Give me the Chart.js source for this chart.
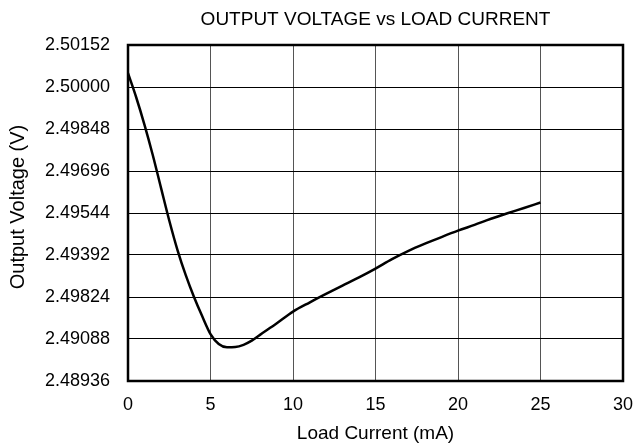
<!DOCTYPE html>
<html>
<head>
<meta charset="utf-8">
<script src="https://cdn.jsdelivr.net/npm/chart.js@4"></script>
<style>
  html, body { margin: 0; padding: 0; background: #fff; }
  #wrap { width: 634px; height: 445px; position: relative; }
</style>
</head>
<body>
<div id="wrap"><canvas id="voltChart"></canvas></div>
<script>
// --- DATA ---
const loadCurrent = [0, 0.5, 1, 1.5, 2, 2.5, 3, 3.5, 4, 4.5, 5, 5.5, 6, 6.5, 7, 7.5, 8, 9, 10,
                     11, 12, 13, 14, 15, 16, 17, 18, 19, 20, 21, 22, 23, 24, 25];
const outputVoltage = [2.50050, 2.49962, 2.49863, 2.49754, 2.49635, 2.49517, 2.49410, 2.49319,
                       2.49240, 2.49170, 2.49106, 2.49070, 2.49058, 2.49059, 2.49067, 2.49082,
                       2.49103, 2.49144, 2.49187, 2.49220, 2.49251, 2.49281, 2.49311, 2.49343,
                       2.49377, 2.49407, 2.49433, 2.49457, 2.49480, 2.49501, 2.49523, 2.49543,
                       2.49562, 2.49582];
const yTickValues = [2.48936, 2.49088, 2.49240, 2.49392, 2.49544, 2.49696, 2.49848, 2.50000, 2.50152];
const yTickLabels = ['2.48936', '2.49088', '2.49824', '2.49392', '2.49544', '2.49696', '2.49848', '2.50000', '2.50152'];
const xTickValues = [0, 5, 10, 15, 20, 25, 30];

const FONT = 'Liberation Sans, Arial, sans-serif';

// frame, title and y-axis title drawn by hand
const framePlugin = {
    id: 'frame',
    afterDraw(chart) {
        const { ctx, chartArea: a } = chart;
        ctx.save();
        ctx.strokeStyle = '#000';
        ctx.lineWidth = 2.5;
        ctx.strokeRect(a.left, a.top, a.right - a.left, a.bottom - a.top);
        ctx.fillStyle = '#000';
        ctx.textAlign = 'center';
        ctx.textBaseline = 'middle';
        ctx.font = '19px ' + FONT;
        ctx.fillText('OUTPUT VOLTAGE vs LOAD CURRENT', (a.left + a.right) / 2, 20);
        ctx.font = '20px ' + FONT;
        ctx.translate(18, 207);
        ctx.rotate(-Math.PI / 2);
        ctx.fillText('Output Voltage (V)', 0, 0);
        ctx.restore();
    }
};

const bgPlugin = {
    id: 'bg',
    beforeDraw(chart) {
        const ctx = chart.ctx;
        ctx.save();
        ctx.fillStyle = '#fff';
        ctx.fillRect(0, 0, chart.width, chart.height);
        ctx.restore();
    }
};

new Chart(document.getElementById('voltChart'), {
    type: 'line',
    data: {
        datasets: [{
            data: loadCurrent.map((x, i) => ({ x: x, y: outputVoltage[i] })),
            borderColor: '#000',
            borderWidth: 2.5,
            pointRadius: 0,
            fill: false,
            cubicInterpolationMode: 'monotone'
        }]
    },
    options: {
        responsive: true,
        maintainAspectRatio: false,
        animation: false,
        layout: { padding: { top: 45, right: 11, left: 0, bottom: 0 } },
        plugins: {
            legend: { display: false },
            tooltip: { enabled: false }
        },
        scales: {
            x: {
                type: 'linear',
                min: 0,
                max: 30,
                afterBuildTicks: s => { s.ticks = xTickValues.map(v => ({ value: v })); },
                ticks: { color: '#000', font: { family: FONT, size: 18 }, padding: 13, maxRotation: 0 },
                grid: { color: '#555', lineWidth: 1, drawTicks: false },
                border: { display: false },
                title: {
                    display: true,
                    text: 'Load Current (mA)',
                    color: '#000',
                    font: { family: FONT, size: 19 },
                    padding: { top: 4, bottom: 0 }
                },
                afterFit: s => { s.height = 64; s.paddingRight = 0; s.paddingLeft = 0; }
            },
            y: {
                type: 'linear',
                min: yTickValues[0],
                max: yTickValues[yTickValues.length - 1],
                afterBuildTicks: s => { s.ticks = yTickValues.map(v => ({ value: v })); },
                ticks: {
                    color: '#000',
                    font: { family: FONT, size: 18 },
                    padding: 18,
                    callback: (v, i) => yTickLabels[i]
                },
                grid: { color: '#000', lineWidth: 1, drawTicks: false },
                border: { display: false },
                afterFit: s => { s.width = 128; }
            }
        }
    },
    plugins: [bgPlugin, framePlugin]
});
</script>
</body>
</html>
